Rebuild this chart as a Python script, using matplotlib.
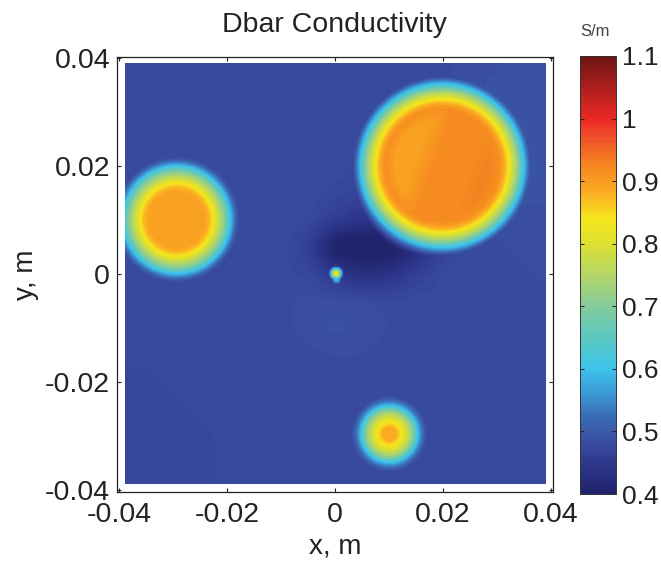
import numpy as np
import matplotlib
matplotlib.use("Agg")
import matplotlib.pyplot as plt
from matplotlib.colors import LinearSegmentedColormap

plt.rcParams['font.family'] = ['Liberation Sans', 'DejaVu Sans']

title = "Dbar Conductivity"
x_label = "x, m"
y_label = "y, m"
unit_label = "S/m"
x_ticks = [-0.04, -0.02, 0, 0.02, 0.04]
y_ticks = [-0.04, -0.02, 0, 0.02, 0.04]
tick_labels = ["-0.04", "-0.02", "0", "0.02", "0.04"]
cbar_ticks = [0.4, 0.5, 0.6, 0.7, 0.8, 0.9, 1.0, 1.1]
cbar_labels = ["0.4", "0.5", "0.6", "0.7", "0.8", "0.9", "1", "1.1"]

# background conductivity, 5 mm spacing, top row y=+0.04
bg_axis = [-0.04, -0.035, -0.03, -0.025, -0.02, -0.015, -0.01, -0.005, 0,
           0.005, 0.01, 0.015, 0.02, 0.025, 0.03, 0.035, 0.04]
bg_rows = [
    [.48,.48,.48,.48,.48,.48,.48,.48,.48,.48,.48,.48,.48,.485,.485,.49,.49],
    [.48,.48,.48,.48,.48,.48,.48,.48,.48,.48,.48,.48,.48,.485,.49,.49,.49],
    [.48,.48,.48,.48,.48,.48,.48,.48,.48,.48,.48,.48,.48,.485,.49,.49,.49],
    [.48,.48,.48,.48,.48,.48,.48,.48,.48,.48,.48,.48,.48,.485,.49,.49,.49],
    [.48,.48,.48,.48,.48,.48,.48,.48,.48,.475,.475,.475,.48,.485,.49,.49,.49],
    [.48,.48,.48,.48,.48,.48,.48,.48,.475,.47,.47,.47,.48,.485,.485,.49,.49],
    [.48,.48,.48,.48,.48,.48,.48,.478,.46,.445,.44,.46,.475,.48,.485,.485,.485],
    [.48,.48,.48,.48,.48,.48,.48,.465,.39,.375,.38,.42,.47,.48,.48,.485,.485],
    [.48,.48,.48,.48,.48,.48,.478,.475,.45,.43,.44,.465,.478,.48,.48,.48,.485],
    [.478,.478,.478,.48,.48,.48,.48,.485,.485,.485,.48,.48,.48,.48,.48,.48,.48],
    [.478,.478,.478,.478,.48,.48,.48,.485,.49,.485,.482,.48,.48,.48,.48,.48,.48],
    [.478,.478,.478,.478,.478,.48,.48,.48,.482,.482,.48,.48,.48,.48,.48,.48,.48],
    [.475,.475,.478,.478,.478,.478,.48,.48,.48,.48,.48,.48,.48,.48,.48,.48,.48],
    [.475,.475,.475,.478,.478,.478,.478,.48,.48,.48,.48,.48,.48,.48,.48,.48,.48],
    [.475,.475,.475,.475,.478,.478,.478,.478,.48,.48,.48,.48,.48,.48,.48,.48,.48],
    [.475,.475,.475,.475,.478,.478,.478,.478,.478,.48,.48,.48,.48,.48,.48,.48,.48],
    [.475,.475,.475,.475,.478,.478,.478,.478,.478,.48,.48,.48,.48,.48,.48,.48,.48],
]

# inclusions: centre (m) and radial conductivity profile
big_center = (0.0198, 0.0200)
big_r = [0, .0105, .0112, .0117, .0124, .0132, .0140, .0150, .0156, .0163, .0170, .0180]
big_v = [.915, .915, .90, .875, .835, .775, .72, .62, .56, .50, .44, .38]
# plateau offset read across the big disc, from its left side to its right side
big_plateau_pos = [-.011, -.005, -.002, .005, .008, .011]
big_plateau_off = [-.025, -.018, 0, 0, .012, .012]

left_center = (-0.0295, 0.0100)
left_r = [0, .0052, .0060, .0068, .0078, .0088, .0098, .0104, .0112, .0120, .0130]
left_v = [.895, .895, .875, .835, .77, .71, .62, .56, .50, .46, .38]

low_center = (0.0100, -0.0298)
low_r = [0, .0012, .0018, .0028, .0036, .0044, .0052, .0058, .0066, .0074, .0085]
low_v = [.885, .885, .855, .81, .76, .70, .61, .55, .50, .46, .38]

tip_center = (0.0001, 0.0000)
tip_r = [0, .0004, .0008, .0011, .0015]
tip_v = [.86, .80, .66, .56, .44]

tail_center = (0.0002, -0.0011)
tail_r = [0, .0005, .0010]
tail_v = [.60, .56, .44]

# colour stops
cmap_values = [0.40, 0.44, 0.48, 0.52, 0.56, 0.60, 0.65, 0.70, 0.75, 0.80, 0.84,
               0.88, 0.93, 0.97, 1.00, 1.05, 1.10]
cmap_colors = ["#20246c", "#2b3488", "#3a4ca0", "#3a6ab4", "#3c9ad6", "#3cc4ec",
               "#5cc8c0", "#84cb9c", "#b4d668", "#dce030", "#f6e51e", "#fbb022",
               "#f58220", "#f0522a", "#ec2a26", "#b01f1e", "#6e1614"]

X = np.linspace(-0.039, 0.039, 421)
Y = np.linspace(0.039, -0.039, 421)
XX, YY = np.meshgrid(X, Y)

bg = np.array(bg_rows)
ax_arr = np.array(bg_axis)
# rows run from +y to -y; resample the table on to the display grid
by_col = np.array([np.interp(X, ax_arr, row) for row in bg])
field = np.array([np.interp(-Y, ax_arr, by_col[:, j]) for j in range(len(X))]).T


def soften(a, width=15, passes=2):
    kernel = np.ones(width) / width
    pad = width
    for _ in range(passes):
        for axis in (0, 1):
            padded = np.pad(a, [(pad, pad) if i == axis else (0, 0) for i in range(2)], mode="edge")
            a = np.apply_along_axis(lambda v: np.convolve(v, kernel, mode="same"), axis, padded)
            a = a[pad:-pad, :] if axis == 0 else a[:, pad:-pad]
    return a


field = soften(field)


def add(center, radii, values):
    global field
    r = np.hypot(XX - center[0], YY - center[1])
    disc = np.interp(r, radii, values, right=0.0)
    field = np.maximum(field, disc)


add(big_center, big_r, big_v)
add(left_center, left_r, left_v)
add(low_center, low_r, low_v)
add(tip_center, tip_r, tip_v)
add(tail_center, tail_r, tail_v)

# slanted bands inside the big disc, faded towards its rim
dx = XX - big_center[0]
dy = YY - big_center[1]
rb = np.hypot(dx, dy)
band_pos = dx - 0.35 * dy
fade = np.interp(rb, [0, big_r[1] - .002, big_r[1]], [1, 1, 0])
field = field + fade * np.interp(band_pos, big_plateau_pos, big_plateau_off)

fig = plt.figure(figsize=(6.61, 5.62), dpi=100)
W, H = 661.0, 562.0
ax = fig.add_axes([117 / W, 1 - 492 / H, 436 / W, 435 / H])

lo, hi = cmap_values[0], cmap_values[-1]
positions = [(v - lo) / (hi - lo) for v in cmap_values]
cmap = LinearSegmentedColormap.from_list("dbar", list(zip(positions, cmap_colors)), N=128)

im = ax.imshow(field, extent=[X[0], X[-1], Y[-1], Y[0]], cmap=cmap, vmin=0.4, vmax=1.1,
               interpolation="bilinear", aspect="auto")
ax.set_xlim(-0.0404, 0.0404)
ax.set_ylim(-0.0404, 0.0402)
ax.set_xticks(x_ticks, tick_labels)
ax.set_yticks(y_ticks, tick_labels)
ax.tick_params(axis="both", direction="in", length=3, width=0.8, labelsize=20.5, color="#222222",
               labelcolor="#222222", top=True, right=True)
ax.tick_params(axis="x", pad=7)
ax.tick_params(axis="y", pad=5)
for s in ax.spines.values():
    s.set_linewidth(0.9)
    s.set_color("#222222")
ax.set_xlabel(x_label, fontsize=20, color="#222222", labelpad=4)
ax.set_ylabel(y_label, fontsize=20, color="#222222", labelpad=4)
fig.text(334 / W, 1 - 25 / H, title, fontsize=20.5, color="#222222", ha="center", va="center")

cax = fig.add_axes([580 / W, 1 - 494 / H, 36 / W, 438 / H])
cb = fig.colorbar(im, cax=cax)
cb.set_ticks(cbar_ticks, labels=cbar_labels)
cb.ax.tick_params(direction="in", length=3, width=0.7, labelsize=19, color="#222222",
                  labelcolor="#222222", left=True, right=True, pad=4)
cb.outline.set_linewidth(0.7)
cb.outline.set_edgecolor("#333333")
fig.text(595 / W, 1 - 31 / H, unit_label, fontsize=12, color="#444444", ha="center", va="center")

fig.savefig("out.png", dpi=100)
